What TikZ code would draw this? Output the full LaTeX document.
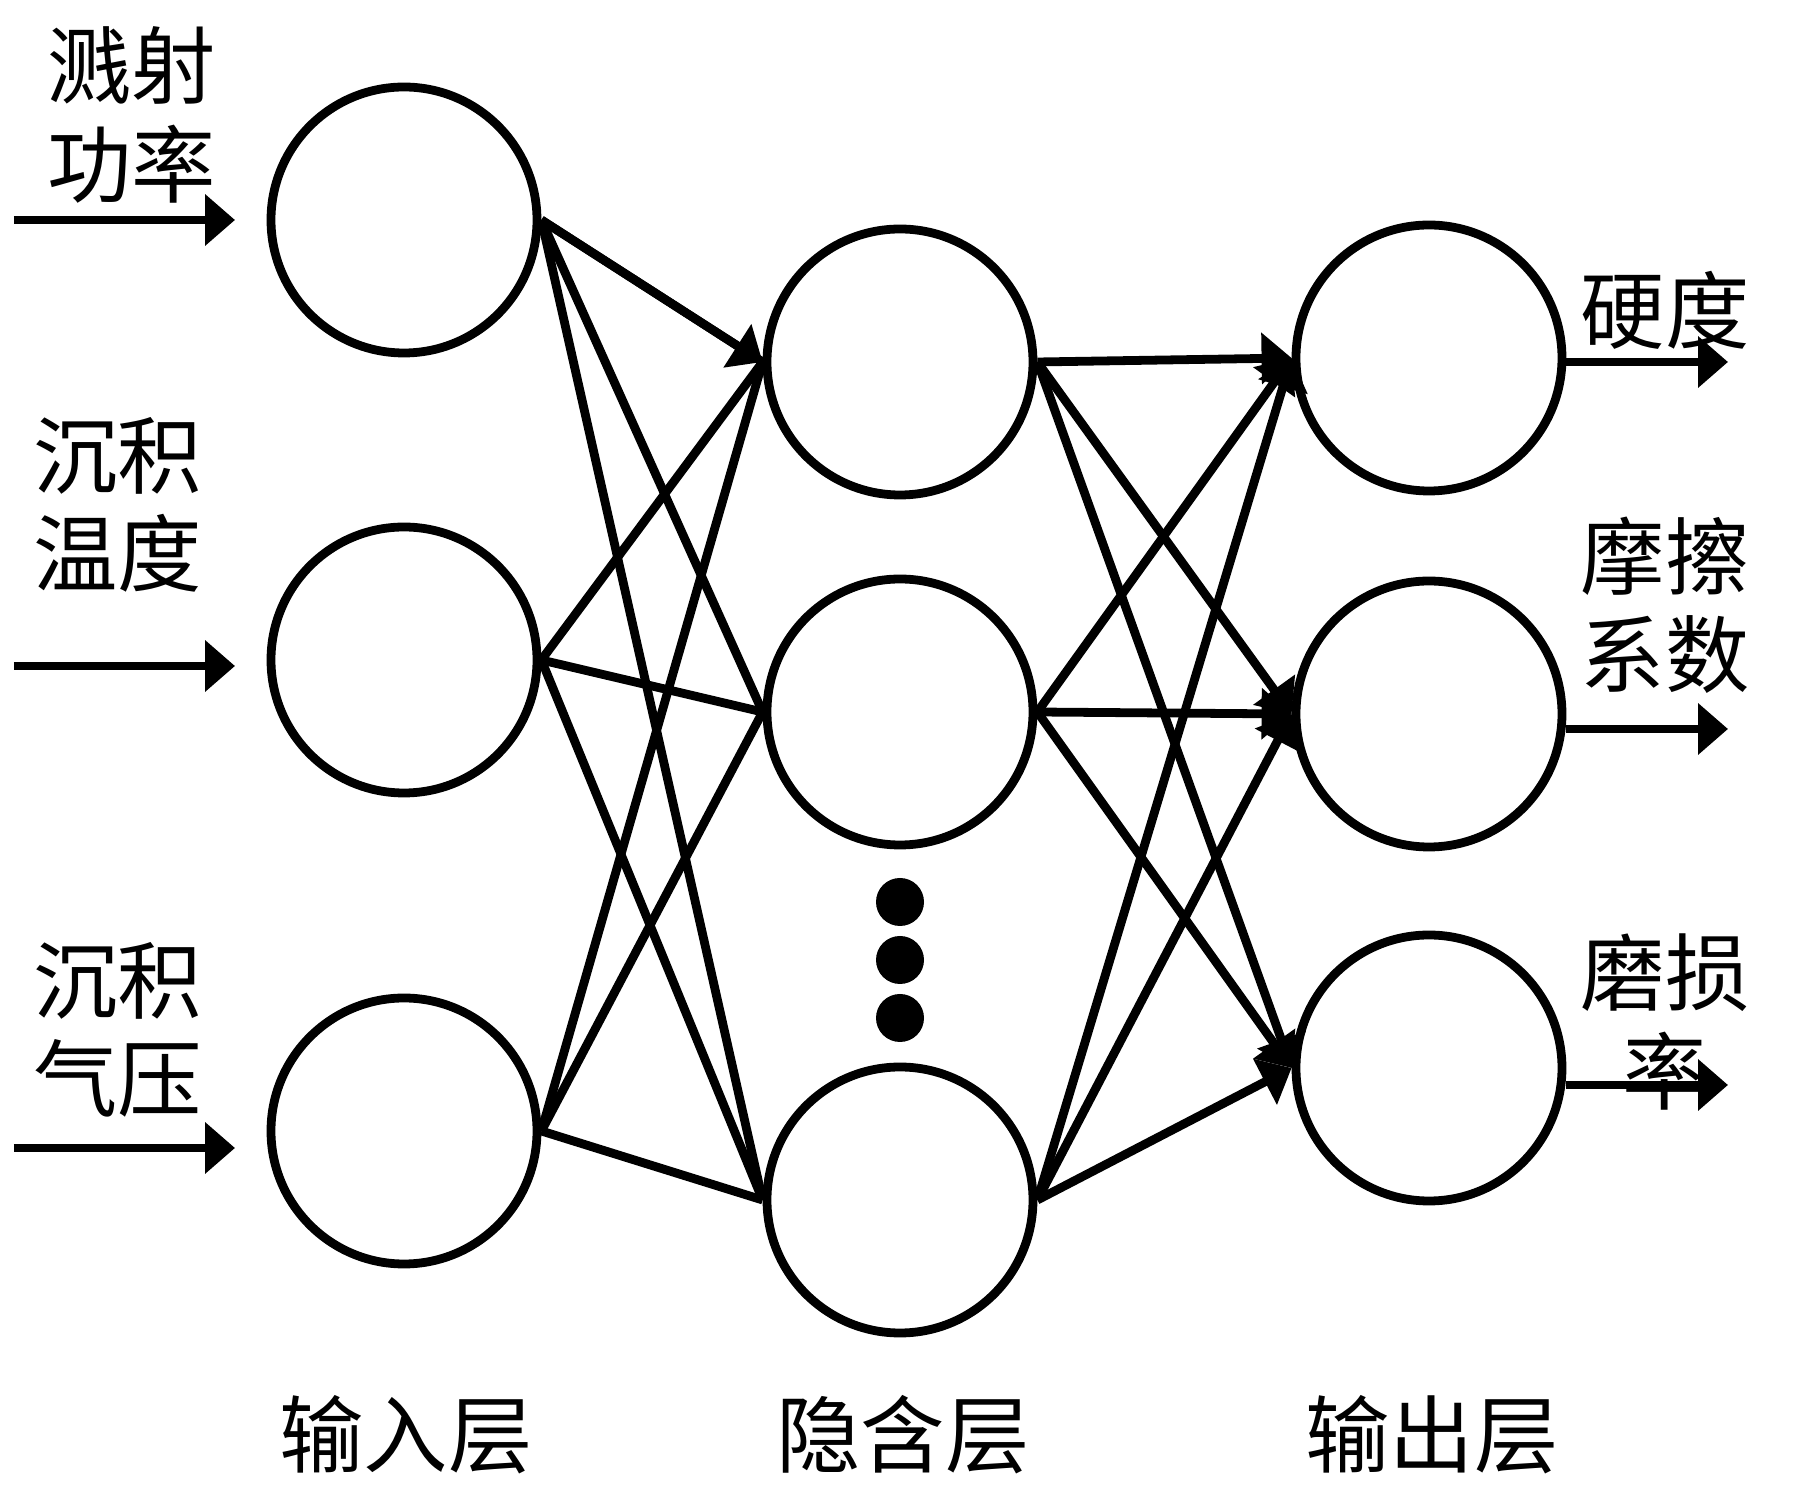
\documentclass[tikz,border=0pt]{standalone}
\usepackage{fontspec}
\newfontfamily\cjk{Noto Sans CJK SC}
\usetikzlibrary{arrows.meta,calc}

\begin{document}
\begin{tikzpicture}[>={Triangle[length=3mm,width=5mm]}, line width=2.5pt,
    neuron/.style={draw, circle, minimum size=2.66cm, inner sep=0pt},
    lbl/.style={align=center, font=\cjk\fontsize{24}{28}\selectfont}]
  \useasboundingbox (0,0) rectangle (18,15.06);
  % input layer
  \node[neuron] (i1) at (4.04,12.86) {};
  \node[neuron] (i2) at (4.04,8.46) {};
  \node[neuron] (i3) at (4.04,3.75) {};
  % hidden layer
  \node[neuron] (h1) at (9.00,11.44) {};
  \node[neuron] (h2) at (9.00,7.94) {};
  \node[neuron] (h3) at (9.00,3.06) {};
  \foreach \y in {6.04,5.46,4.88}
    \fill (9.00,\y) circle (0.24);
  % output layer
  \node[neuron] (o1) at (14.29,11.48) {};
  \node[neuron] (o2) at (14.29,7.92) {};
  \node[neuron] (o3) at (14.29,4.38) {};

  \foreach \a in {1,2,3}
    \foreach \b in {1,2,3}
      \draw (i\a.east) -- (h\b.west);
  \draw[->] (i1.east) -- (h1.west);
  \foreach \a in {1,2,3}
    \foreach \b in {1,2,3}
      \draw[->] (h\a.east) -- (o\b.west);

  % inputs and outputs
  \foreach \n/\y in {1/12.86, 2/8.40, 3/3.58} {
    \coordinate (s\n) at (0.14,\y);
    \coordinate (e\n) at (2.35,\y);
    \draw[->] (s\n) -- (e\n);
  }
  \foreach \n/\y in {1/11.44, 2/7.77, 3/4.21} {
    \coordinate (t\n) at (17.28,\y);
    \draw[->] (o\n.east |- t\n) -- (t\n);
  }

  \node[lbl] (l1) at (1.32,13.91) {溅射\\功率};
  \node[lbl] (l2) at (1.18,10.01) {沉积\\温度};
  \node[lbl] (l3) at (1.18,4.76) {沉积\\气压};
  \node[lbl] (r1) at (16.65,11.96) {硬度};
  \node[lbl] (r2) at (16.65,9.01) {摩擦\\系数};
  \node[lbl] (r3) at (16.65,4.84) {磨损\\率};
  \node[lbl] (b1) at (4.06,0.71) {输入层};
  \node[lbl] (b2) at (9.03,0.71) {隐含层};
  \node[lbl] (b3) at (14.32,0.71) {输出层};
\end{tikzpicture}
\end{document}
